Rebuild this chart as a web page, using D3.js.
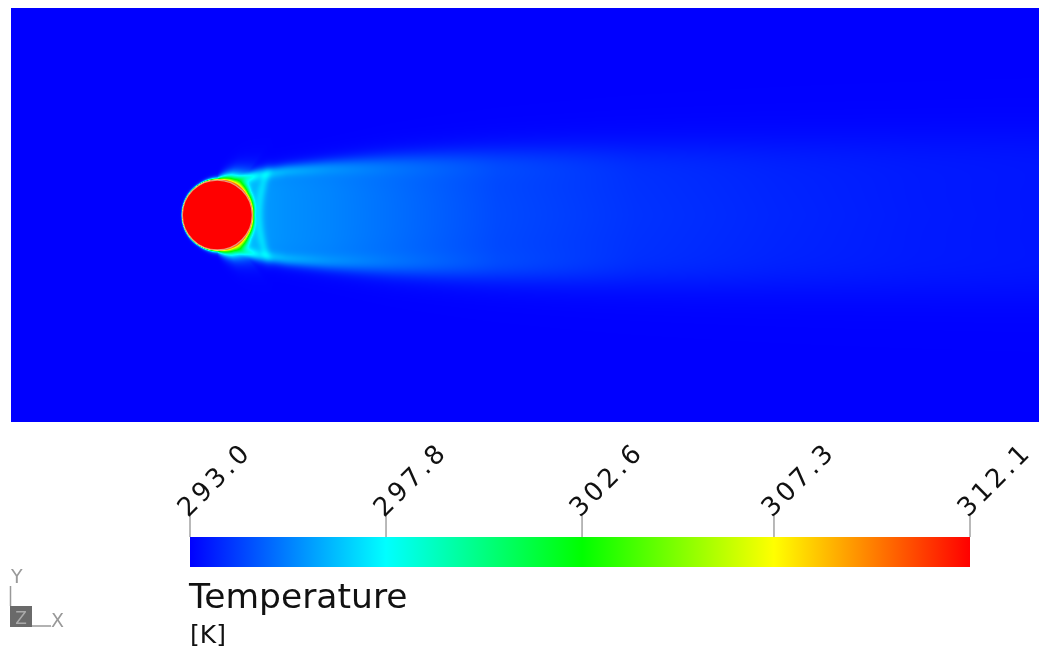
<!DOCTYPE html>
<html>
<head>
<meta charset="utf-8">
<script src="https://cdn.jsdelivr.net/npm/d3@7"></script>
<style>
  html, body { margin: 0; padding: 0; background: #ffffff; }
  #wrap { position: relative; width: 1039px; height: 650px; overflow: hidden; }
  canvas, svg { position: absolute; left: 0; top: 0; }
</style>
</head>
<body>
<div id="wrap">
  <canvas id="field" width="1039" height="650"></canvas>
  <svg id="overlay" width="1039" height="650"></svg>
</div>
<script>
// ---------------- data ----------------
const tickValues   = [293.0, 297.8, 302.6, 307.3, 312.1];      // colour-bar ticks [K]
const tickLabels   = ["293.0", "297.8", "302.6", "307.3", "312.1"];
const tickColors   = ["#0000ff", "#00ffff", "#00ff00", "#ffff00", "#ff0000"];
const ambientT     = 293.0;     // free stream temperature [K]
const wallT        = 312.1;     // heated cylinder surface [K]
const cylRadius    = 0.5;       // cylinder radius in diameters
const domainX      = [-2.95, 11.75];  // x/D extent of the field
const domainY      = [-2.95, 2.95];   // y/D extent of the field

// thermal boundary layer thickness around the cylinder (angle from front stagnation point)
const blAngle      = [0, 60, 90, 110, 125, 145, 180];               // degrees
const blThickness  = [0.006, 0.01, 0.02, 0.08, 0.11, 0.06, 0.03];   // in D

// wake stations downstream (x/D), half-width, shear-layer & core temperatures, edge blur
const wakeX        = [0.17, 0.35, 0.6, 1.0, 1.6, 2.5, 4.0, 6.0, 8.0, 10.0, 11.75];
const wakeHalf     = [0.47, 0.54, 0.61, 0.67, 0.72, 0.77, 0.83, 0.88, 0.92, 0.95, 0.98];
const wakeEdgeT    = [302.5, 299.8, 297.8, 297.1, 296.5, 295.8, 294.8, 294.1, 293.8, 293.6, 293.5];
const wakeCoreT    = [296.2, 296.1, 295.9, 295.7, 295.5, 295.1, 294.4, 293.95, 293.7, 293.5, 293.4];
const wakeBlur     = [0.04, 0.045, 0.05, 0.055, 0.07, 0.1, 0.14, 0.18, 0.21, 0.24, 0.26];
// recirculation bubble boundary (bright arc behind the cylinder)
const bubbleX      = [0.60, 0.72];   // x/D at centreline, at shear layer
const bubbleRiseT  = 1.0;            // temperature excess on the arc [K]

// ---------------- scales ----------------
const plot = { left: 11, right: 1039, top: 8, bottom: 422 };
const x = d3.scaleLinear().domain(domainX).range([plot.left, plot.right]);
const y = d3.scaleLinear().domain(domainY).range([plot.bottom, plot.top]);
const color = d3.scaleLinear().domain(tickValues).range(tickColors).clamp(true);

const blScale    = d3.scaleLinear().domain(blAngle).range(blThickness).clamp(true);
const halfScale  = d3.scaleLinear().domain(wakeX).range(wakeHalf).clamp(true);
const edgeScale  = d3.scaleLinear().domain(wakeX).range(wakeEdgeT).clamp(true);
const coreScale  = d3.scaleLinear().domain(wakeX).range(wakeCoreT).clamp(true);
const blurScale  = d3.scaleLinear().domain(wakeX).range(wakeBlur).clamp(true);

function temperature(px, py) {
  const r = Math.hypot(px, py);
  if (r <= cylRadius) return wallT;
  const ay = Math.abs(py);
  // boundary layer
  const theta = Math.atan2(ay, -px) * 180 / Math.PI;
  const delta = blScale(theta);
  const Tbl = (wallT - ambientT) * Math.exp(-(r - cylRadius) / delta);
  let Tw = 0;
  if (px > wakeX[0]) {
    const h = halfScale(px), Te = edgeScale(px), Tc = coreScale(px), w = blurScale(px);
    const d = ay - h;
    const s = 1 / (1 + Math.exp(d / w));
    const ramp = Math.min(1, (px - wakeX[0]) / 0.1);
    const ridge = Math.exp(-Math.pow((d + 0.5 * w) / (1.6 * w), 2));
    Tw = ramp * ((Tc - ambientT) * s + Math.max(0, Te - Tc) * ridge);
    // bubble arc
    const frac = Math.min(1, ay / h);
    const xb = bubbleX[0] + (bubbleX[1] - bubbleX[0]) * frac * frac;
    Tw += bubbleRiseT * Math.exp(-Math.pow((px - xb) / 0.07, 2)) * s;
    // region between cylinder and arc slightly warmer
    Tw += 0.5 * s / (1 + Math.exp((px - xb) / 0.03));
  }
  // smooth maximum of the two contributions
  const p = 4;
  return ambientT + Math.pow(Math.pow(Tbl, p) + Math.pow(Tw, p), 1 / p);
}

// ---------------- draw field ----------------
const canvas = document.getElementById("field");
const ctx = canvas.getContext("2d");
const W = plot.right - plot.left, H = plot.bottom - plot.top;
const img = ctx.createImageData(W, H);
for (let j = 0; j < H; j++) {
  const py = y.invert(plot.top + j + 0.5);
  for (let i = 0; i < W; i++) {
    const px = x.invert(plot.left + i + 0.5);
    const c = d3.rgb(color(temperature(px, py)));
    const k = (j * W + i) * 4;
    img.data[k] = c.r; img.data[k + 1] = c.g; img.data[k + 2] = c.b; img.data[k + 3] = 255;
  }
}
ctx.putImageData(img, plot.left, plot.top);

// cylinder outline (thin light rim)
const svg = d3.select("#overlay");
svg.append("circle")
  .attr("cx", x(0)).attr("cy", y(0))
  .attr("r", x(cylRadius) - x(0))
  .attr("fill", "none").attr("stroke", "#e0d0a0").attr("stroke-width", 1.2).attr("opacity", 0.75);

// ---------------- colour bar ----------------
const bar = { left: 190, right: 970, top: 537, height: 30 };
const cb = d3.scaleLinear().domain([tickValues[0], tickValues[tickValues.length - 1]]).range([bar.left, bar.right]);
const defs = svg.append("defs");
const grad = defs.append("linearGradient").attr("id", "cbar").attr("x1", "0%").attr("x2", "100%");
tickValues.forEach((v, i) => {
  grad.append("stop")
    .attr("offset", ((cb(v) - bar.left) / (bar.right - bar.left) * 100) + "%")
    .attr("stop-color", tickColors[i]);
});
svg.append("rect")
  .attr("x", bar.left).attr("y", bar.top)
  .attr("width", bar.right - bar.left).attr("height", bar.height)
  .attr("fill", "url(#cbar)");

const ticks = svg.append("g");
tickValues.forEach((v, i) => {
  const tx = cb(v);
  ticks.append("line")
    .attr("x1", tx).attr("x2", tx)
    .attr("y1", bar.top - 22).attr("y2", bar.top)
    .attr("stroke", "#8a8a8a").attr("stroke-width", 1.2);
  ticks.append("text")
    .attr("transform", `translate(${tx - 2},${bar.top - 19}) rotate(-45)`)
    .attr("font-family", "DejaVu Sans, Verdana, sans-serif")
    .attr("font-size", 26)
    .attr("letter-spacing", 3.5)
    .attr("fill", "#111")
    .text(tickLabels[i]);
});

svg.append("text")
  .attr("x", 189).attr("y", 608)
  .attr("font-family", "DejaVu Sans, Verdana, sans-serif")
  .attr("font-size", 34.5)
  .attr("fill", "#111")
  .text("Temperature");
svg.append("text")
  .attr("x", 190).attr("y", 643)
  .attr("font-family", "DejaVu Sans, Verdana, sans-serif")
  .attr("font-size", 25)
  .attr("fill", "#111")
  .text("[K]");

// ---------------- axis triad ----------------
const triad = svg.append("g");
triad.append("line").attr("x1", 10.5).attr("x2", 10.5).attr("y1", 586).attr("y2", 606)
  .attr("stroke", "#999").attr("stroke-width", 1.5);
triad.append("rect").attr("x", 10).attr("y", 606).attr("width", 22).attr("height", 21)
  .attr("fill", "#6a6a6a");
triad.append("text").attr("x", 21).attr("y", 624).attr("text-anchor", "middle")
  .attr("font-family", "DejaVu Sans, sans-serif").attr("font-size", 17).attr("fill", "#aaa").text("Z");
triad.append("line").attr("x1", 32).attr("x2", 51).attr("y1", 626).attr("y2", 626)
  .attr("stroke", "#999").attr("stroke-width", 1.5);
triad.append("text").attr("x", 51).attr("y", 627)
  .attr("font-family", "DejaVu Sans, sans-serif").attr("font-size", 19).attr("fill", "#999").text("X");
triad.append("text").attr("x", 11).attr("y", 583)
  .attr("font-family", "DejaVu Sans, sans-serif").attr("font-size", 19).attr("fill", "#999").text("Y");
</script>
</body>
</html>
